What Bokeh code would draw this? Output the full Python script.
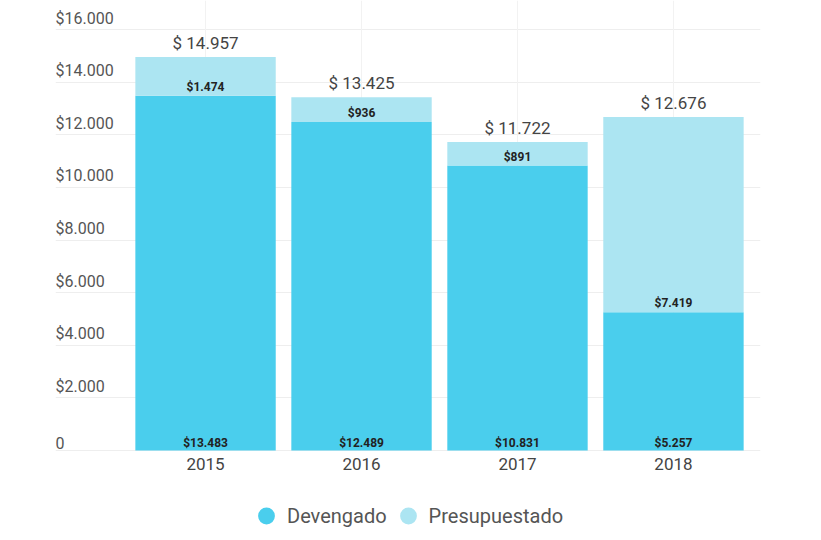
from bokeh.plotting import figure
from bokeh.models import ColumnDataSource, FixedTicker, Legend, LegendItem, Range1d
from bokeh.core.properties import value
from bokeh.embed import file_html
from bokeh.resources import INLINE

years = ["2015", "2016", "2017", "2018"]
devengado = [13483, 12489, 10831, 5257]
presupuesto_rest = [1474, 936, 891, 7419]
totals = [14957, 13425, 11722, 12676]
y_ticks = [0, 2000, 4000, 6000, 8000, 10000, 12000, 14000, 16000]

DARK = "#4ACEED"
LIGHT = "#ACE5F2"
FONT = "Roboto"

def fmt(v):
    return f"{v:,}".replace(",", ".")

xs = list(range(len(years)))
src = ColumnDataSource(dict(
    x=xs,
    dev=devengado,
    rest=presupuesto_rest,
    tot=totals,
    year=years,
    dev_lbl=["$" + fmt(v) for v in devengado],
    rest_lbl=["$" + fmt(v) for v in presupuesto_rest],
    tot_lbl=["$ " + fmt(v) for v in totals],
    zero=[0] * len(xs),
))

# frame spans full canvas height; 421 px per 16000 units, zero line at y=450 px
PX = 421 / 16000
y_top = 450 / PX
y_bot = -(540 - 450) / PX
x0, x1 = -0.962, 3.558
p = figure(width=821, height=540, output_backend="svg", toolbar_location=None,
           x_range=Range1d(x0, x1), y_range=Range1d(y_bot, y_top),
           min_border_left=55, min_border_right=61, min_border_top=0, min_border_bottom=0)
p.outline_line_color = None
p.background_fill_color = "white"
p.border_fill_color = "white"
p.xaxis.visible = False
p.yaxis.visible = False
p.xgrid.visible = False
p.ygrid.ticker = FixedTicker(ticks=y_ticks)
p.ygrid.grid_line_color = "#eeeeee"

# vertical guide lines at category centres (from zero to top)
top_val = 17102
p.segment(x0=xs, y0=[0] * len(xs), x1=xs, y1=[top_val] * len(xs),
          line_color="#f2f2f2", line_width=1)

p.vbar(x="x", bottom="zero", top="dev", width=0.9, source=src,
       fill_color=DARK, line_color=None)
src2 = ColumnDataSource(dict(x=xs, b=devengado, t=totals))
p.vbar(x="x", bottom="b", top="t", width=0.9, source=src2,
       fill_color=LIGHT, line_color=None)

# y tick labels drawn inside plot area, above gridlines
ysrc = ColumnDataSource(dict(
    x=[x0] * len(y_ticks), y=y_ticks,
    t=["0" if v == 0 else "$" + fmt(v) for v in y_ticks]))
p.text(x="x", y="y", text="t", source=ysrc, text_font=value(FONT),
       text_font_size="16px", text_color="#555555", text_align="left",
       text_baseline="bottom", y_offset=-2)

# category labels
p.text(x="x", y="zero", text="year", source=src, text_font=value(FONT),
       text_font_size="17px", text_color="#444444", text_align="center",
       text_baseline="top", y_offset=7)

p.text(x="x", y="tot", text="tot_lbl", source=src, text_font=value(FONT),
       text_font_size="17px", text_color="#444444", text_align="center",
       text_baseline="bottom", y_offset=-4)
p.text(x="x", y="dev", text="rest_lbl", source=src, text_font=value(FONT),
       text_font_size="12px", text_color="#222222", text_align="center",
       text_baseline="bottom", y_offset=-2, text_font_style="bold")
p.text(x="x", y="zero", text="dev_lbl", source=src, text_font=value(FONT),
       text_font_size="12px", text_color="#222222", text_align="center",
       text_baseline="bottom", y_offset=-1, text_font_style="bold")

# legend proxy markers (one point each, placed outside the visible range)
l1 = p.scatter(x=[xs[0]], y=[y_bot * 10], marker="circle", size=18,
               fill_color=DARK, line_color=None)
l2 = p.scatter(x=[xs[0]], y=[y_bot * 10], marker="circle", size=18,
               fill_color=LIGHT, line_color=None)
legend = Legend(items=[LegendItem(label="Devengado", renderers=[l1]),
                       LegendItem(label="Presupuestado", renderers=[l2])],
                orientation="horizontal", location=(190, 2),
                label_text_font=FONT, label_text_font_size="20px",
                label_text_color="#555555", glyph_width=42, glyph_height=45,
                label_standoff=-5, spacing=-17, border_line_color=None,
                background_fill_alpha=0, margin=0, padding=0)
p.add_layout(legend, "center")

open("out.html", "w").write(file_html(p, INLINE))
